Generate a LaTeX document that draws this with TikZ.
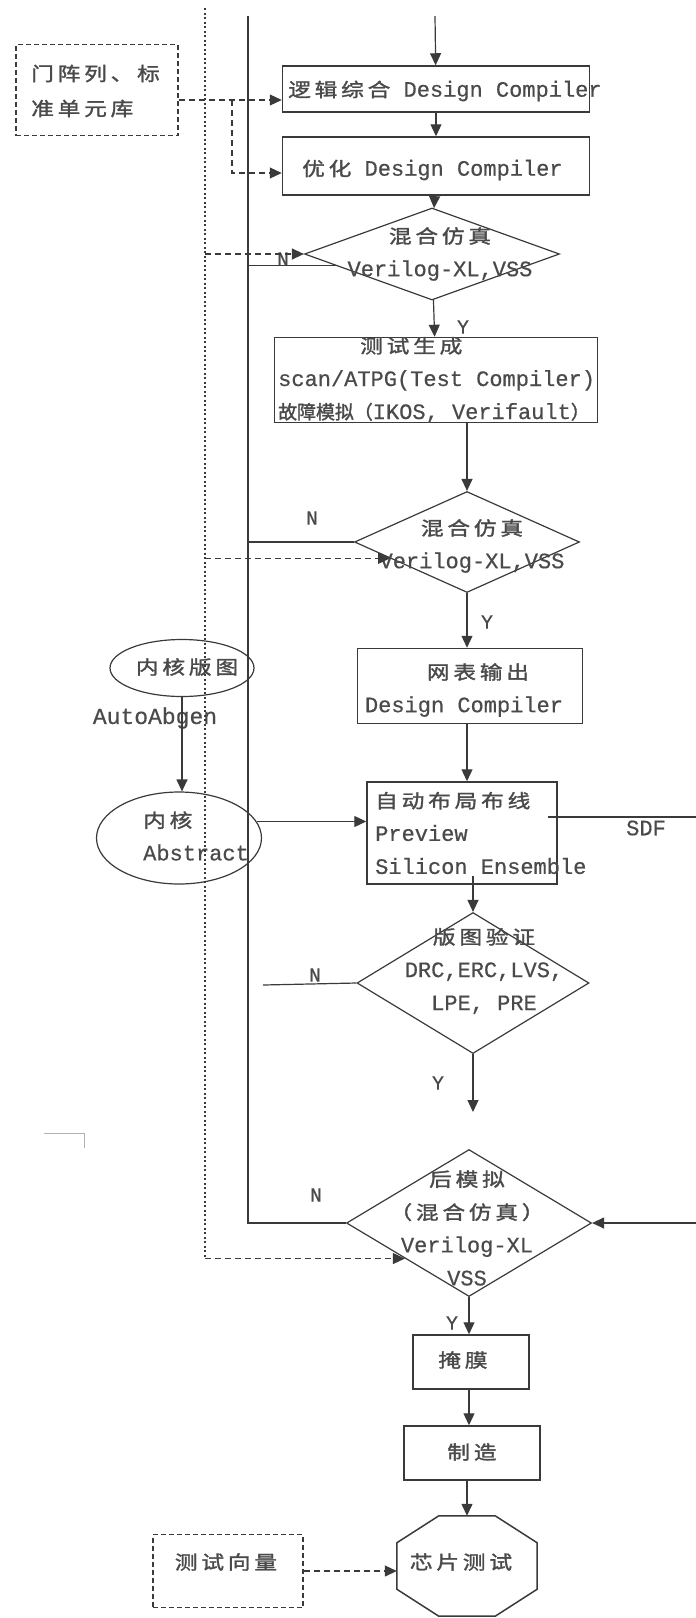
\documentclass[tikz,border=0pt]{standalone}
\usepackage{fontspec}
\setmainfont[FakeBold=0.5]{Liberation Mono}
\newfontfamily\cjk[Scale=0.86,FakeStretch=1.2,LetterSpace=20,FakeBold=1.6]{Noto Sans CJK SC}
\newfontfamily\cjkn[Scale=0.86,FakeBold=1.6]{Noto Sans CJK SC}
\newcommand{\zh}[1]{{\cjk #1}}
\usetikzlibrary{arrows.meta,positioning,shapes.geometric,calc}
\definecolor{ink}{HTML}{3a3a3a}
\definecolor{txtgray}{HTML}{4a4a4a}

\begin{document}
\begin{tikzpicture}[
  x=1pt, y=-1pt,
  procbox/.style={draw=ink, line width=1.5pt, inner sep=0pt},
  decide/.style={diamond, draw=ink, line width=1.2pt, inner sep=0pt},
  oval/.style={ellipse, draw=ink, line width=1.2pt, inner sep=0pt},
  libbox/.style={draw=ink, line width=1.2pt, dash pattern=on 5pt off 3pt, inner sep=0pt},
  txt/.style={font=\fontsize{22}{33}\selectfont, text=txtgray, align=center, inner sep=0pt},
  lbl/.style={font=\fontsize{20}{24}\selectfont, text=txtgray, inner sep=0pt},
  flow/.style={draw=ink, line width=1.2pt},
  dashflow/.style={draw=ink, line width=1.2pt, dash pattern=on 6pt off 4pt},
  dotflow/.style={draw=ink, line width=1.2pt, dash pattern=on 2pt off 2.5pt},
  >={Triangle[length=12pt,width=11pt]}
]
\useasboundingbox (0,0) rectangle (696,1618);

% free ends
\coordinate (dottop) at (205,8);
\coordinate (solidtop) at (248,16);
\coordinate (entry) at (435,16);
\coordinate (libsplit) at (232,100);
\coordinate (drcout) at (263,985);
\coordinate (drcend) at (469,1112);
\coordinate (sdfend) at (696,817);
\coordinate (backin) at (696,1223);
\coordinate (stray) at (44,1133);

% upper column
\node[procbox, minimum width=307pt, minimum height=46pt] (synth) at (436,89) {};
\node[procbox, minimum width=307pt, minimum height=58pt] (opt) at (436,166) {};
\node[decide, minimum width=255pt, minimum height=92pt] (sim1) at (432,254) {};
\node[procbox, minimum width=323pt, minimum height=85pt] (tgen) at (436,380) {};
\node[libbox, minimum width=162pt, minimum height=91pt] (lib) at (97,90) {};

% lower column
\node[decide, minimum width=225pt, minimum height=101pt] (sim2) at (467,542) {};
\node[procbox, minimum width=225pt, minimum height=75pt] (net) at (470,686) {};
\node[oval, minimum width=144pt, minimum height=57pt] (core1) at (182,668) {};
\node[oval, minimum width=165pt, minimum height=92pt] (core2) at (179,838) {};
\node[procbox, minimum width=190pt, minimum height=102pt] (pr) at (462,833) {};
\node[decide, minimum width=232pt, minimum height=141pt] (drc) at (473,983) {};
\node[decide, minimum width=245pt, minimum height=147pt] (post) at (469,1223) {};
\node[procbox, minimum width=116pt, minimum height=54pt] (mask) at (471,1362) {};
\node[procbox, minimum width=136pt, minimum height=54pt] (fab) at (472,1453) {};
\node[minimum width=140pt, minimum height=100pt, inner sep=0pt] (chip) at (467,1566) {};
\node[libbox, minimum width=150pt, minimum height=73pt] (vec) at (228,1571) {};

% texts
\node[txt, anchor=west] (synth-t) at (288,91) {\zh{逻辑综合} Design Compiler};
\node[txt, anchor=west] (opt-t) at (302,170) {\zh{优化} Design Compiler};
\node[txt, anchor=west, align=left, font=\fontsize{22}{35}\selectfont] (lib-t) at (31,91) {\zh{门阵列、标}\\\zh{准单元库}};
\node[txt] (sim1-t) at (440,254) {\zh{混合仿真}\\Verilog-XL,VSS};
\node[txt, anchor=west, align=left] (tgen-t) at (278,380) {\hspace*{82pt}\zh{测试生成}\\scan/ATPG(Test Compiler)\\{\cjkn 故障模拟（}IKOS, Verifault{\cjkn ）}};
\node[txt] (sim2-t) at (472,546) {\zh{混合仿真}\\Verilog-XL,VSS};
\node[txt] (net-t) at (464,690) {\hspace*{28pt}\zh{网表输出}\\Design Compiler};
\node[txt] (core1-t) at (187,667) {\zh{内核版图}};
\node[txt, anchor=west, align=left] (core2-t) at (143,836) {\zh{内核}\\Abstract};
\node[txt, anchor=west, align=left] (pr-t) at (375,833) {\zh{自动布局布线}\\Preview\\Silicon Ensemble};
\node[txt] (drc-t) at (484,971) {\zh{版图验证}\\DRC,ERC,LVS,\\LPE, PRE};
\node[txt] (post-t) at (467,1228) {\zh{后模拟}\\\zh{（混合仿真）}\\Verilog-XL\\VSS};
\node[txt] (mask-t) at (463,1360) {\zh{掩膜}};
\node[txt] (fab-t) at (472,1452) {\zh{制造}};
\node[txt] (chip-t) at (461,1562) {\zh{芯片测试}};
\node[txt] (vec-t) at (226,1562) {\zh{测试向量}};

% labels
\node[lbl] (n1) at (283,259) {N};
\node[lbl] (y1) at (463,327) {Y};
\node[lbl] (n2) at (312,518) {N};
\node[lbl] (y2) at (487,622) {Y};
\node[txt, font=\fontsize{23}{30}\selectfont] (abgen) at (155,718) {AutoAbgen};
\node[txt] (sdf) at (646,828) {SDF};
\node[lbl] (n3) at (315,975) {N};
\node[lbl] (y3) at (438,1083) {Y};
\node[lbl] (n4) at (316,1195) {N};
\node[lbl] (y4) at (452,1323) {Y};

% main flow
\draw[flow,->] (entry) -- (synth);
\draw[flow,->] (synth) -- (opt);
\draw[flow,->] (opt) -- (sim1);
\draw[flow,->] (sim1) -- (tgen);
\draw[flow,->] (sim2.north |- tgen.south) -- (sim2.north);
\draw[flow,->] (sim2.south) -- (sim2.south |- net.north);
\draw[flow,->] (sim2.south |- net.south) -- (sim2.south |- pr.north);
\draw[flow,->] (drc.north |- pr.south) ++(0,-9) -- (drc.north);
\draw[flow,->] (drc.south) -- (drc.south |- drcend);
\draw[flow,->] (post.south) -- (post.south |- mask.north);
\draw[flow,->] (post.south |- mask.south) -- (post.south |- fab.north);
\draw[flow,->] (chip.north |- fab.south) -- (chip.north);

% octagon
\draw[ink, line width=1.5pt] ([xshift=42pt]chip.north west) -- ([xshift=-42pt]chip.north east)
  -- ([yshift=-27pt]chip.north east) -- ([yshift=27pt]chip.south east)
  -- ([xshift=-42pt]chip.south east) -- ([xshift=42pt]chip.south west)
  -- ([yshift=27pt]chip.south west) -- ([yshift=-27pt]chip.north west) -- cycle;

% library inputs
\draw[dashflow,->] (lib.east |- libsplit) -- (synth.west |- libsplit);
\draw[dashflow,->] (libsplit) |- ([yshift=-7pt]opt.west);
\draw[dashflow,->] (vec.east) -- (vec.east -| chip.west);

% N loops (solid)
\draw[flow] (solidtop) -- (solidtop |- post.west) -- (post.west);
\draw[flow] (solidtop |- sim1.187) -- (sim1.187);
\draw[flow] (solidtop |- sim2.west) -- (sim2.west);
\draw[flow] (drc.west) -- (drcout);

% dotted feed
\draw[dotflow] (dottop) -- (dottop |- post.209);
\draw[dashflow,->] (dottop |- sim1.west) -- (sim1.west);
\draw[dashflow,->] (dottop |- sim2.192) -- (sim2.192);
\draw[dashflow,->] (dottop |- post.209) -- (post.209);

% core
\draw[flow,->] (core1.south) -- (core1.south |- core2.north);
\draw[flow,->] (core2.12) -- (core2.12 -| pr.west);

% SDF
\draw[flow] (pr.east |- sdfend) ++(-10,0) -- (sdfend);
\draw[flow,->] (backin) -- (post.east);

\draw[black!30, line width=1pt] (stray) -- ++(40,0) -- ++(0,15);
\end{tikzpicture}
\end{document}
